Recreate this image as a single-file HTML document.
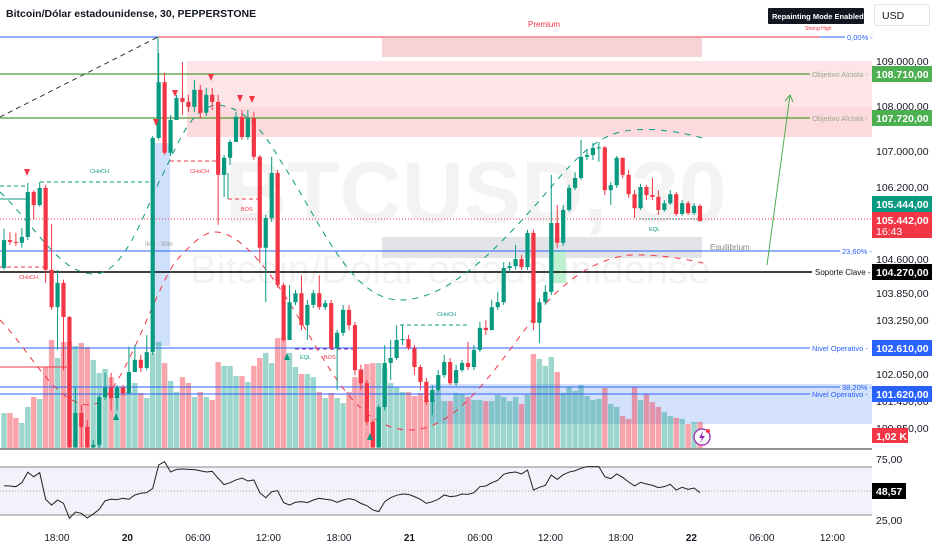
<!DOCTYPE html>
<html><head><meta charset="utf-8"><title>BTCUSD 30</title>
<style>
html,body{margin:0;padding:0;background:#fff;}
svg{display:block;font-family:"Liberation Sans",sans-serif;}
</style></head>
<body>
<svg id="chart" width="932" height="550" viewBox="0 0 932 550" xmlns="http://www.w3.org/2000/svg">
  <rect x="0" y="0" width="932" height="550" fill="#ffffff"/>
  <!-- watermark -->
  <g fill="#f3f3f3">
    <text x="225" y="222" font-size="86" font-weight="bold">BTCUSD, 30</text>
    <text x="190" y="283" font-size="40">Bitcoin/Dólar estadounidense</text>
  </g>
  <!-- zones -->
  <g>
    <rect x="382" y="38" width="320" height="19" fill="#f9d2d5"/>
    <rect x="187" y="61" width="685" height="76" fill="#fde4e6"/>
    <rect x="187" y="107" width="685" height="30" fill="#fbd6d9" opacity="0.7"/>
    <rect x="382" y="237" width="320" height="21" fill="#e3e4e8"/>
    <rect x="430" y="384" width="442" height="40" fill="#d4e1fb"/>
    <rect x="152" y="143" width="18" height="203" fill="#cfe0fa"/>
    <rect x="553" y="250" width="13" height="33" fill="#bff0cf"/>
    <text x="145" y="246" font-size="6" fill="#999">IMB - 30m</text>
  </g>
  <g id="volumes"></g>
  <!-- levels -->
  <g font-size="7.5">
    <line x1="0" y1="37" x2="158" y2="37" stroke="#2962ff" stroke-width="1"/>
    <line x1="158" y1="37" x2="820" y2="37" stroke="#f23645" stroke-width="1"/>
    <line x1="820" y1="37" x2="845" y2="37" stroke="#2962ff" stroke-width="1"/>
    <text x="847" y="40" fill="#2962ff">0,00% -</text>
    <line x1="0" y1="117" x2="158" y2="37" stroke="#333" stroke-dasharray="5,4" stroke-width="1"/>
    <line x1="158" y1="37" x2="158" y2="138" stroke="#089981" stroke-width="1"/>
    <line x1="0" y1="74" x2="810" y2="74" stroke="#4f9a30" stroke-width="1.3"/>
    <text x="812" y="77" fill="#9aa88a">Objetivo Alcista -</text>
    <line x1="0" y1="118" x2="810" y2="118" stroke="#4f9a30" stroke-width="1.3"/>
    <text x="812" y="121" fill="#9aa88a">Objetivo Alcista -</text>
    <line x1="0" y1="219" x2="872" y2="219" stroke="#f23645" stroke-dasharray="1,2" stroke-width="1"/>
    <line x1="0" y1="251" x2="840" y2="251" stroke="#2962ff" stroke-width="1"/>
    <text x="710" y="250" fill="#888" font-size="8">Equilibrium</text>
    <text x="842" y="254" fill="#2962ff">23,60% -</text>
    <line x1="0" y1="272" x2="812" y2="272" stroke="#000" stroke-width="1.6"/>
    <text x="815" y="275" fill="#111" font-size="8">Soporte Clave -</text>
    <line x1="0" y1="348" x2="810" y2="348" stroke="#2962ff" stroke-width="1"/>
    <text x="812" y="351" fill="#2962ff">Nivel Operativo -</text>
    <line x1="0" y1="387" x2="840" y2="387" stroke="#2962ff" stroke-width="1"/>
    <text x="842" y="390" fill="#2962ff">38,20% -</text>
    <line x1="0" y1="394" x2="810" y2="394" stroke="#2962ff" stroke-width="1"/>
    <text x="812" y="397" fill="#2962ff">Nivel Operativo -</text>
    <line x1="0" y1="367" x2="67" y2="367" stroke="#f23645" stroke-width="1"/>
    <text x="528" y="27" fill="#f23645" font-size="8">Premium</text>
    <text x="805" y="30" fill="#f23645" font-size="5">Strong High</text>
  </g>
  <!-- structure -->
  <g font-size="5.5" fill="none">
    <line x1="0" y1="199" x2="27" y2="199" stroke="#089981"/>
    <line x1="0" y1="186" x2="25" y2="186" stroke="#089981" stroke-dasharray="4,3"/>
    <line x1="40" y1="182" x2="155" y2="182" stroke="#089981" stroke-dasharray="4,3"/>
    <text x="90" y="173" fill="#089981">CHoCH</text>
    <line x1="170" y1="161" x2="217" y2="161" stroke="#f23645" stroke-dasharray="4,3"/>
    <text x="190" y="173" fill="#f23645">CHoCH</text>
    <line x1="228" y1="199" x2="258" y2="199" stroke="#f23645" stroke-dasharray="4,3"/>
    <line x1="228" y1="173" x2="228" y2="199" stroke="#089981"/>
    <text x="241" y="211" fill="#f23645">BOS</text>
    <line x1="0" y1="267" x2="45" y2="267" stroke="#f23645" stroke-dasharray="4,3"/>
    <text x="19" y="279" fill="#f23645">CHoCH</text>
    <line x1="400" y1="325" x2="470" y2="325" stroke="#089981" stroke-dasharray="4,3"/>
    <text x="437" y="316" fill="#089981">CHoCH</text>
    <line x1="295" y1="349" x2="355" y2="349" stroke="#9c27b0" stroke-dasharray="4,3"/>
    <text x="300" y="359" fill="#089981">EQL</text>
    <text x="324" y="359" fill="#f23645">BOS</text>
    <line x1="640" y1="219" x2="700" y2="219" stroke="#089981" stroke-dasharray="1,2"/>
    <text x="649" y="231" fill="#089981">EQL</text>
  </g>
  <!-- dashed waves -->
  <g fill="none" stroke-width="1" stroke-dasharray="6,6">
    <path d="M0,192 C35,225 60,275 95,274 C125,273 145,210 160,180 C180,140 190,110 215,105 C240,105 260,125 280,160 C320,220 350,300 400,300 C450,300 500,245 540,200 C570,165 590,140 620,132 C650,126 680,132 703,138" stroke="#089981"/>
    <path d="M0,320 C30,350 55,405 90,405 C120,405 150,300 175,262 C195,240 205,232 215,232 C240,232 270,270 300,320 C330,370 360,430 410,430 C460,430 500,360 540,310 C570,275 600,258 630,255 C660,254 690,260 703,263" stroke="#f23645"/>
  </g>
  <g id="candles"></g>
  <g>
    <path d="M24,169 L30,169 L27,176 Z" fill="#f23645"/>
    <path d="M153,119 L159,119 L156,126 Z" fill="#f23645"/>
    <path d="M172,90 L178,90 L175,97 Z" fill="#f23645"/>
    <path d="M208,74 L214,74 L211,81 Z" fill="#f23645"/>
    <path d="M237,95 L243,95 L240,102 Z" fill="#f23645"/>
    <path d="M249,96 L255,96 L252,103 Z" fill="#f23645"/>
    <path d="M113,420 L119,420 L116,413 Z" fill="#089981"/>
    <path d="M284,360 L290,360 L287,353 Z" fill="#089981"/>
    <path d="M367,440 L373,440 L370,433 Z" fill="#089981"/>
  </g>
  <g stroke="#4caf50" fill="none" stroke-width="1">
    <line x1="767" y1="265" x2="790" y2="95"/>
    <path d="M785,101 L790,95 L793,102"/>
  </g>
  <line x1="0" y1="449" x2="872" y2="449" stroke="#555" stroke-width="1.3"/>
  <g>
    <circle cx="702" cy="437" r="8" fill="#fff" stroke="#9c27b0" stroke-width="1.3"/>
    <path d="M703,431 L699,438 L702,438 L700,443 L705,436 L702,436 Z" fill="#9c27b0"/>
    <circle cx="708" cy="431" r="2" fill="#f23645"/>
  </g>
  <!-- RSI pane -->
  <g>
    <rect x="0" y="467" width="872" height="48" fill="#f3f1fa"/>
    <line x1="0" y1="467" x2="872" y2="467" stroke="#888" stroke-width="1"/>
    <line x1="0" y1="515" x2="872" y2="515" stroke="#888" stroke-width="1"/>
    <line x1="0" y1="491" x2="872" y2="491" stroke="#aaa" stroke-dasharray="1,2" stroke-width="1"/>
    <path id="rsiLine" fill="none" stroke="#222" stroke-width="1"/>
  </g>
  <!-- price axis -->
  <g id="priceAxis" font-size="10.5" fill="#131722"></g>
  <g font-size="10.5" font-weight="bold" fill="#fff">
    <rect x="872" y="66" width="60" height="16" fill="#4caf50"/><text x="876" y="78">108.710,00</text>
    <rect x="872" y="110" width="60" height="16" fill="#4caf50"/><text x="876" y="122">107.720,00</text>
    <rect x="872" y="196" width="60" height="16" fill="#089981"/><text x="876" y="208">105.444,00</text>
    <rect x="872" y="212" width="60" height="26" fill="#f23645"/><text x="876" y="224">105.442,00</text><text x="876" y="235" font-weight="normal">16:43</text>
    <rect x="872" y="264" width="60" height="16" fill="#000"/><text x="876" y="276">104.270,00</text>
    <rect x="872" y="340" width="60" height="16" fill="#2962ff"/><text x="876" y="352">102.610,00</text>
    <rect x="872" y="386" width="60" height="16" fill="#2962ff"/><text x="876" y="398">101.620,00</text>
    <rect x="872" y="428" width="36" height="15" fill="#f23645"/><text x="876" y="440">1,02 K</text>
    <rect x="872" y="483" width="34" height="16" fill="#000"/><text x="876" y="495">48,57</text>
  </g>
  <g font-size="10.5" fill="#131722">
    <text x="876" y="463">75,00</text>
    <text x="876" y="524">25,00</text>
  </g>
  <g id="timeAxis" font-size="10" fill="#131722"></g>
  <text x="6" y="17" font-size="10.5" font-weight="bold" fill="#131722">Bitcoin/Dólar estadounidense, 30, PEPPERSTONE</text>
  <g>
    <rect x="768" y="8" width="96" height="16" fill="#131722" rx="1"/>
    <text x="772" y="19" font-size="7.5" font-weight="bold" fill="#fff">Repainting Mode Enabled</text>
  </g>
  <g>
    <rect x="874.5" y="4.5" width="55" height="21" fill="#fff" stroke="#e0e3eb" rx="3"/>
    <text x="882" y="19" font-size="10.5" fill="#131722">USD</text>
  </g>
</svg>
<script>
const opens0 = 104400;
const closes = [105020,104980,104960,105090,106090,105800,106180,104360,103530,104070,103310,100420,101180,100870,100420,100470,101530,101740,101510,101740,101620,102090,102360,102180,102530,107290,108530,106960,107690,108180,108090,107980,108360,107850,108250,108090,106470,106850,107200,107760,107310,107730,106870,104850,105510,106510,104020,102800,103640,103840,103130,103580,103840,103530,103620,102620,102960,103470,103130,102130,101840,100980,100420,101310,102290,102400,102800,102820,102620,102200,101870,101420,101690,102020,102310,101840,102130,102290,102200,102580,103070,103020,103530,103640,104400,104440,104600,104420,105180,103180,103640,103870,105400,104960,105690,106180,106400,106870,106910,107070,107080,106130,106240,106850,106470,106040,105730,106200,106020,105980,105690,105840,106040,105600,105840,105620,105780,105442];
const highs = [105270,105200,105180,105290,106290,106130,106310,106250,105380,104360,104140,103330,101760,101360,101020,100580,101580,102070,102070,101800,101800,102650,102690,102470,102910,107330,109180,108740,107800,108250,108980,108250,108580,108470,108400,108400,108250,106910,107250,107870,107910,107910,107870,106910,105580,106870,106580,104070,104020,103910,104240,103690,103910,104240,103690,103690,103020,103580,103580,103200,102250,101910,101020,101360,102690,102800,103130,103130,102910,102690,102250,101960,101800,102130,102470,102400,102250,102360,102760,102690,103200,103240,103690,103870,104530,104530,104910,104690,105250,105250,103730,104020,106470,105800,105800,106250,106530,107250,107020,107180,107200,107110,106310,106890,106800,106580,106130,106270,106250,106400,106130,105910,106130,106090,105910,105890,105840,105820];
const lows = [104360,104910,104890,104850,105020,105470,105760,104070,103470,102580,102130,100400,100400,100420,100400,100400,100400,101470,101240,101240,101560,101580,102090,102090,102130,102470,107250,106910,106890,107690,107800,107870,107870,107730,107780,107910,105360,105980,106690,107200,107250,107250,106800,104510,103640,105420,103960,102760,102800,103580,103020,102800,103510,103470,103470,102580,101690,102890,103020,102020,101690,100910,100400,100400,101240,101910,102360,102690,102580,102020,101690,101360,101130,101650,101960,101800,101780,102090,102130,102130,102530,102910,103020,103470,103580,104310,104360,104360,104360,103020,102730,103580,103800,104850,104890,105650,106130,106360,106800,106800,106760,106020,105800,106180,106400,105960,105510,105690,105910,105910,105580,105650,105800,105560,105560,105580,105580,105470];
const volumesK = [1.37,1.37,1.18,0.98,1.61,2.0,1.92,3.18,4.24,3.53,4.16,4.16,4.0,4.12,3.96,3.45,2.94,3.1,2.78,2.39,2.39,2.2,2.55,2.16,1.96,3.73,4.16,3.33,2.63,2.2,2.78,2.55,2.0,2.2,2.0,1.88,3.37,3.22,3.22,2.82,2.82,2.59,3.22,3.53,3.73,3.33,4.31,4.31,3.73,3.18,2.9,2.9,2.78,2.2,1.96,2.16,1.96,1.76,2.2,2.78,3.1,3.29,3.33,3.33,3.14,2.55,2.39,2.2,2.2,2.04,2.16,1.88,1.92,2.27,1.84,1.84,2.16,2.1,2.0,1.88,1.88,1.84,1.84,2.08,2.0,1.84,2.0,1.73,2.08,3.69,3.49,3.22,3.57,2.98,2.16,2.39,2.24,2.47,2.04,1.88,1.92,2.35,1.73,1.61,1.25,1.14,2.39,1.88,2.12,1.8,1.61,1.41,1.25,1.18,1.14,0.94,1.02,1.02];
const rsiValues = [54.4,54.2,53.6,56.9,65.6,61.9,65.3,43,38.3,42.5,39.7,27.2,32.5,31.4,27.5,30.8,34.7,41.9,43.1,42.8,43.9,43.1,46.7,48.1,48.6,52.2,71.7,74.4,65.8,68,68.3,68,67.8,66.9,65.8,66.4,60.6,55.3,56.9,59.2,60.8,58.3,59.2,48.6,44.4,49.4,50.3,40.3,38.3,40.6,41.1,40.3,42.5,43.9,43.1,42.5,40.6,42.5,43.6,42.5,39.7,37.8,34.2,32.8,41.1,44.4,46.4,47.5,47.2,45.3,43.1,39.7,41.1,43.1,46.7,45.3,45.8,47.5,47.2,48.6,53.6,54.2,56.9,58.9,63.9,65.3,65.8,64.2,67.5,50.8,53.1,54.7,63.3,59.7,63.6,65.8,66.9,68.9,70.3,70.3,70.3,61.9,60.3,64.2,61.4,57.5,54.2,57.2,55.8,54.7,52.8,53.6,55.6,50.8,53.1,51.4,52.5,48.57];
const priceTicks = [109000,108000,107000,106200,104600,103850,103250,102050,101450,100850];
const priceTickLabels = ["109.000,00","108.000,00","107.000,00","106.200,00","104.600,00","103.850,00","103.250,00","102.050,00","101.450,00","100.850,00"];
const timeTickBars = [8.9,20.75,32.6,44.45,56.3,68.15,80,91.85,103.7,115.55,127.4,139.25];
const timeTickLabels = ["18:00","20","06:00","12:00","18:00","21","06:00","12:00","18:00","22","06:00","12:00"];
const timeTickBold = [false,true,false,false,false,true,false,false,false,true,false,false];

const NS = "http://www.w3.org/2000/svg";
const n = closes.length;
const xB = i => 4 + i * (696 / (n - 1));
const yP = p => 61 + (109000 - p) * 0.045;
const yV = v => 448 - v * 25.5;
const yR = r => 491 - (r - 50) * 1.2;
const GREEN = "#089981", RED = "#f23645";

const vg = document.getElementById("volumes");
const cg = document.getElementById("candles");
for (let i = 0; i < n; i++) {
  const o = i === 0 ? opens0 : closes[i - 1];
  const c = closes[i];
  const up = c >= o;
  const x = xB(i);
  const vb = document.createElementNS(NS, "rect");
  
  
  const vy = yV(volumesK[i]);
  vb.setAttribute("x", (x - 2.7).toFixed(2));
  vb.setAttribute("y", vy.toFixed(2));
  vb.setAttribute("width", "5.4");
  vb.setAttribute("height", (448 - vy).toFixed(2));
  vb.setAttribute("fill", up ? "rgba(8,153,129,0.4)" : "rgba(242,54,69,0.45)");
  vg.appendChild(vb);
  const g = document.createElementNS(NS, "g");
  
  
  const col = up ? GREEN : RED;
  const hi = Math.max(highs[i], o, c), lo = Math.min(lows[i], o, c);
  const wick = document.createElementNS(NS, "line");
  wick.setAttribute("x1", x.toFixed(2)); wick.setAttribute("x2", x.toFixed(2));
  wick.setAttribute("y1", yP(hi).toFixed(2)); wick.setAttribute("y2", yP(lo).toFixed(2));
  wick.setAttribute("stroke", col); wick.setAttribute("stroke-width", "1");
  g.appendChild(wick);
  const body = document.createElementNS(NS, "rect");
  const top = yP(Math.max(o, c)), bot = yP(Math.min(o, c));
  body.setAttribute("x", (x - 2.1).toFixed(2));
  body.setAttribute("y", top.toFixed(2));
  body.setAttribute("width", "4.2");
  body.setAttribute("height", Math.max(1, bot - top).toFixed(2));
  body.setAttribute("fill", col);
  g.appendChild(body);
  cg.appendChild(g);
}
let d = "";
for (let i = 0; i < rsiValues.length; i++) {
  d += (i ? "L" : "M") + xB(i).toFixed(2) + "," + yR(rsiValues[i]).toFixed(2);
}
document.getElementById("rsiLine").setAttribute("d", d);
const pa = document.getElementById("priceAxis");
for (let k = 0; k < priceTicks.length; k++) {
  const t = document.createElementNS(NS, "text");
  
  
  t.setAttribute("x", "876");
  t.setAttribute("y", (yP(priceTicks[k]) + 4).toFixed(1));
  t.textContent = priceTickLabels[k];
  pa.appendChild(t);
}
const ta = document.getElementById("timeAxis");
for (let k = 0; k < timeTickBars.length; k++) {
  const t = document.createElementNS(NS, "text");
  
  
  t.setAttribute("x", xB(timeTickBars[k]).toFixed(1));
  t.setAttribute("y", "541");
  t.setAttribute("text-anchor", "middle");
  if (timeTickBold[k]) t.setAttribute("font-weight", "bold");
  t.textContent = timeTickLabels[k];
  ta.appendChild(t);
}
</script>
</body></html>
